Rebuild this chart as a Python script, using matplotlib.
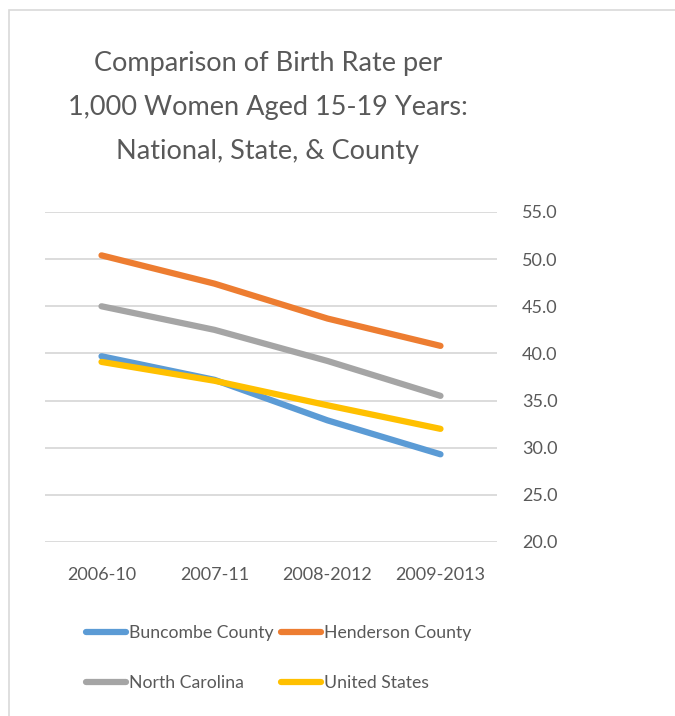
import matplotlib
matplotlib.use("Agg")
import matplotlib.pyplot as plt
from matplotlib.patches import Rectangle

periods = ["2006-10", "2007-11", "2008-2012", "2009-2013"]
buncombe = [39.7, 37.2, 32.9, 29.3]
henderson = [50.4, 47.4, 43.7, 40.8]
north_carolina = [45.0, 42.5, 39.2, 35.5]
united_states = [39.1, 37.1, 34.5, 32.0]

series = [
    ("Buncombe County", buncombe, "#5b9bd5"),
    ("Henderson County", henderson, "#ed7d31"),
    ("North Carolina", north_carolina, "#a5a5a5"),
    ("United States", united_states, "#ffc000"),
]

plt.rcParams["font.family"] = ["Lato", "DejaVu Sans"]
text_color = "#595959"

W, H = 675, 716
fig = plt.figure(figsize=(W / 100, H / 100), dpi=100)

# chart frame
fig.patches.append(Rectangle((9 / W, -0.01), 1.1, (H - 10) / H + 0.01,
                             transform=fig.transFigure, fill=False,
                             edgecolor="#d9d9d9", linewidth=1.2))

ax = fig.add_axes([45 / W, (H - 542) / H, (497 - 45) / W, 330 / H])
x = list(range(len(periods)))
handles = {}
for name, vals, col in series:
    h, = ax.plot(x, vals, color=col, linewidth=4.5, solid_capstyle="round",
                 solid_joinstyle="round", label=name)
    handles[name] = h

ax.set_xlim(-0.5, 3.5)
ax.set_ylim(20, 55)
ax.set_yticks([20, 25, 30, 35, 40, 45, 50, 55])
ax.set_yticklabels([f"{v:.1f}" for v in ax.get_yticks()])
ax.yaxis.tick_right()
ax.set_xticks(x)
ax.set_xticklabels(periods)
ax.tick_params(axis="both", length=0, labelsize=13, colors=text_color)
ax.tick_params(axis="y", pad=18)
ax.tick_params(axis="x", pad=18)
ax.grid(axis="y", color="#d9d9d9", linewidth=1.3)
ax.set_axisbelow(True)
for s in ax.spines.values():
    s.set_visible(False)

fig.text(268 / W, 1 - 108 / H,
         "Comparison of Birth Rate per\n1,000 Women Aged 15-19 Years:\nNational, State, & County",
         ha="center", va="center", fontsize=19.5, color=text_color, linespacing=1.95)

# legend laid out row by row: Buncombe / Henderson, North Carolina / United States
order = ["Buncombe County", "North Carolina", "Henderson County", "United States"]
leg = fig.legend(handles=[handles[n] for n in order], loc="center left",
                 bbox_to_anchor=(70 / W, 1 - 658 / H), ncol=2, frameon=False,
                 fontsize=12.7, handlelength=2.3, handletextpad=0.15,
                 columnspacing=0.4, labelspacing=1.95)
for t in leg.get_texts():
    t.set_color(text_color)

fig.savefig("out.png", dpi=100, facecolor="white")
